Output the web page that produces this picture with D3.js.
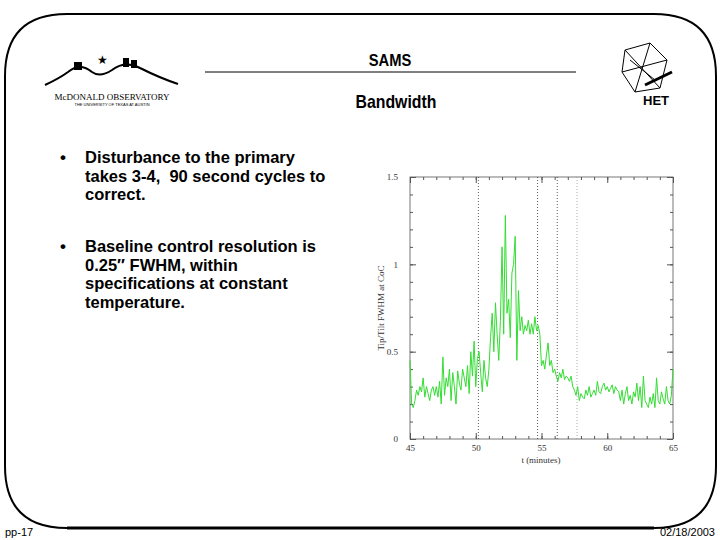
<!DOCTYPE html>
<html><head><meta charset="utf-8">
<script src="https://cdn.jsdelivr.net/npm/d3@7"></script>
<style>body{margin:0;background:#fff}svg{display:block}</style>
</head><body>
<script>
const xTicks=[45,50,55,60,65];
const yTicks=[0,0.5,1,1.5];
const markerTimes=[50.2,54.7,56.2,57.7];
const tStart=45, tStep=0.125;
const fwhm=[
0.45,0.2,0.18,0.22,0.28,0.25,0.3,0.27,0.35,0.24,0.3,0.26,0.22,0.28,0.3,0.25,
0.3,0.24,0.33,0.2,0.47,0.25,0.35,0.3,0.4,0.22,0.38,0.3,0.2,0.39,0.32,0.28,
0.4,0.35,0.3,0.42,0.26,0.5,0.36,0.56,0.3,0.46,0.5,0.38,0.27,0.45,0.35,0.3,
0.4,0.58,0.72,0.5,0.78,0.6,0.45,0.68,1.1,0.6,1.28,0.72,0.8,0.58,0.95,1.0,
1.16,0.45,0.85,0.62,0.7,0.6,0.65,0.62,0.68,0.6,0.66,0.6,0.7,0.62,0.65,0.6,
0.42,0.45,0.4,0.48,0.55,0.42,0.45,0.38,0.4,0.36,0.33,0.38,0.35,0.4,0.34,0.36,
0.35,0.33,0.36,0.3,0.28,0.25,0.3,0.22,0.26,0.24,0.23,0.28,0.25,0.3,0.24,0.26,
0.28,0.25,0.33,0.27,0.26,0.3,0.32,0.28,0.3,0.27,0.29,0.31,0.26,0.3,0.28,0.27,
0.22,0.28,0.2,0.26,0.3,0.22,0.25,0.2,0.27,0.24,0.32,0.22,0.3,0.18,0.36,0.22,
0.2,0.18,0.24,0.2,0.26,0.18,0.35,0.22,0.2,0.27,0.23,0.2,0.3,0.22,0.2,0.25,0.4];
const bullets=[["Disturbance to the primary","takes 3-4,  90 second cycles to","correct."],
["Baseline control resolution is","0.25\u2033 FWHM, within","specifications at constant","temperature."]];

const svg=d3.select("body").append("svg").attr("width",720).attr("height",540);
const r=62,L=5,R=716,T=14,B=528;
svg.append("path").attr("d",`M${L},${B-r} L${L},${T+r} Q${L},${T} ${L+r},${T} L${R-r},${T} Q${R},${T} ${R},${T+r} L${R},${B-r} Q${R},${B} ${R-r},${B} L${L+r},${B} Q${L},${B} ${L},${B-r}Z`)
 .attr("fill","none").attr("stroke","#000").attr("stroke-width",2);
svg.append("line").attr("x1",L+r).attr("x2",R-r).attr("y1",B).attr("y2",B).attr("stroke","#000").attr("stroke-width",3);
const font="Liberation Sans, Arial, sans-serif";
svg.append("text").attr("x",390).attr("y",66).attr("text-anchor","middle").attr("font-family",font).attr("font-size",16).attr("font-weight","bold").attr("transform","translate(390,0) scale(0.92,1) translate(-390,0)").text("SAMS");
svg.append("line").attr("x1",205).attr("x2",576).attr("y1",72).attr("y2",72).attr("stroke","#000");
svg.append("text").attr("x",396).attr("y",108).attr("text-anchor","middle").attr("font-family",font).attr("font-size",18).attr("font-weight","bold").attr("transform","translate(396,0) scale(0.88,1) translate(-396,0)").text("Bandwidth");
// McDonald logo
svg.append("path").attr("d","M45,85 Q60,78 68,72 Q80,62 92,72 Q100,78 112,70 Q125,60 140,68 Q160,78 178,84").attr("fill","none").attr("stroke","#000").attr("stroke-width",2);
svg.append("rect").attr("x",74).attr("y",62).attr("width",8).attr("height",8);
svg.append("rect").attr("x",123).attr("y",58).attr("width",6).attr("height",9);
svg.append("rect").attr("x",131).attr("y",60).attr("width",6).attr("height",8);
svg.append("text").attr("x",102).attr("y",64).attr("text-anchor","middle").attr("font-size",12).text("\u2605");
svg.append("text").attr("x",112).attr("y",100).attr("text-anchor","middle").attr("font-family","Liberation Serif, serif").attr("font-size",9).text("McDONALD OBSERVATORY");
svg.append("text").attr("x",112).attr("y",106).attr("text-anchor","middle").attr("font-family",font).attr("font-size",4).text("THE UNIVERSITY OF TEXAS AT AUSTIN");
// HET logo
svg.append("path").attr("d","M625,50 L650,43 L667,60 L660,88 L635,92 L622,72 Z M625,50 L660,88 M650,43 L635,92 M622,72 L667,60 M630,60 L655,80").attr("fill","none").attr("stroke","#000").attr("stroke-width",1);
svg.append("line").attr("x1",645).attr("x2",672).attr("y1",85).attr("y2",72).attr("stroke","#000").attr("stroke-width",3);
svg.append("text").attr("x",656).attr("y",105).attr("text-anchor","middle").attr("font-family",font).attr("font-weight","bold").attr("font-size",13).text("HET");
// bullets
const by=[163,252];
bullets.forEach((b,i)=>{
  svg.append("text").attr("x",60).attr("y",by[i]).attr("font-family",font).attr("font-size",17).attr("font-weight","bold").text("\u2022");
  b.forEach((s,j)=>svg.append("text").attr("x",85).attr("y",by[i]+j*18.5).attr("font-family",font).attr("font-size",16.5).attr("font-weight","bold").attr("xml:space","preserve").style("white-space","pre").text(s));
});
svg.append("text").attr("x",5).attr("y",536).attr("font-family",font).attr("font-size",11).text("pp-17");
svg.append("text").attr("x",715).attr("y",536).attr("text-anchor","end").attr("font-family",font).attr("font-size",11).text("02/18/2003");

// chart
const x=d3.scaleLinear().domain([45,65]).range([410,673]);
const y=d3.scaleLinear().domain([0,1.5]).range([439,177]);
const g=svg.append("g");
g.append("rect").attr("x",410).attr("y",177).attr("width",263).attr("height",262).attr("fill","none").attr("stroke","#555").attr("stroke-width",0.8);
const serif="Liberation Serif, Times New Roman, serif";
const mk=(ax,tr,lab)=>{const a=g.append("g").attr("transform",tr).call(ax);a.select(".domain").remove();a.selectAll("text").attr("font-family",serif).attr("font-size",9).attr("fill","#333");a.selectAll("line").attr("stroke","#555");if(!lab)a.selectAll("text").remove();};
const minorX=d3.range(45,65.01,1), minorY=d3.range(0,1.501,0.1);
mk(d3.axisBottom(x).tickValues(xTicks).tickFormat(d3.format("d")).tickSize(-6).tickPadding(6),"translate(0,439)",true);
mk(d3.axisBottom(x).tickValues(minorX).tickSize(-3),"translate(0,439)",false);
mk(d3.axisTop(x).tickValues(xTicks).tickSize(-6),"translate(0,177)",false);
mk(d3.axisTop(x).tickValues(minorX).tickSize(-3),"translate(0,177)",false);
mk(d3.axisLeft(y).tickValues(yTicks).tickFormat(d=>d).tickSize(-6).tickPadding(12),"translate(410,0)",true);
mk(d3.axisLeft(y).tickValues(minorY).tickSize(-3),"translate(410,0)",false);
mk(d3.axisRight(y).tickValues(yTicks).tickSize(-6),"translate(673,0)",false);
mk(d3.axisRight(y).tickValues(minorY).tickSize(-3),"translate(673,0)",false);
markerTimes.forEach((t,i)=>g.append("line").attr("x1",x(t)).attr("x2",x(t)).attr("y1",177).attr("y2",439).attr("stroke",i==3?"#999":"#333").attr("stroke-width",0.8).attr("stroke-dasharray","1,2"));
g.append("path").datum(fwhm).attr("fill","none").attr("stroke","#33dd33").attr("stroke-width",1)
 .attr("d",d3.line().x((d,i)=>x(tStart+i*tStep)).y(d=>y(d)));
g.append("text").attr("x",541).attr("y",463).attr("text-anchor","middle").attr("font-family",serif).attr("font-size",9).attr("fill","#333").text("t (minutes)");
g.append("text").attr("transform","translate(384,308) rotate(-90)").attr("text-anchor","middle").attr("font-family",serif).attr("font-size",9).attr("fill","#333").text("Tip/Tilt FWHM at CoC");
</script>
</body></html>
